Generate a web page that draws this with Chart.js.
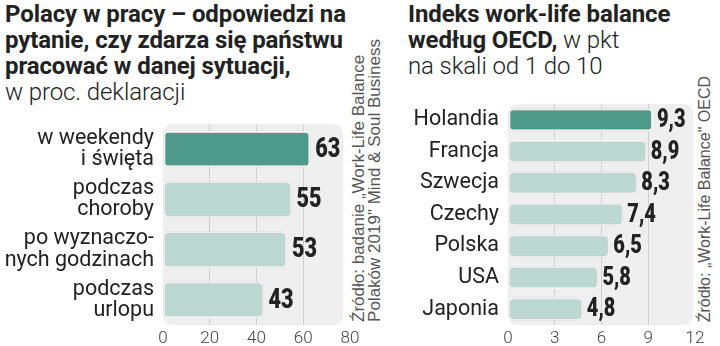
<!DOCTYPE html>
<html>
<head>
<meta charset="utf-8">
<script src="https://cdn.jsdelivr.net/npm/chart.js@4"></script>
<style>
  body { margin: 0; width: 720px; height: 346px; background: #fff; position: relative; overflow: hidden; font-family: Roboto, sans-serif; color: #222; }
  .title { position: absolute; top: 1px; font-size: 24px; line-height: 26px; white-space: nowrap; letter-spacing: -0.1px; }
  .title b { font-weight: 700; }
  .title span { font-weight: 300; }
  .src { position: absolute; bottom: 24px; writing-mode: vertical-rl; transform: rotate(180deg); font-family: "Liberation Sans", sans-serif; line-height: 16px; color: #555; white-space: nowrap; }
  canvas { position: absolute; }
</style>
</head>
<body>
<div class="title" style="left:5px"><b>Polacy w pracy – odpowiedzi na<br>pytanie, czy zdarza się państwu<br>pracować w danej sytuacji,</b><br><span>w proc. deklaracji</span></div>
<div class="title" style="left:408px"><b>Indeks work-life balance<br>według OECD,</b><span> w pkt<br>na skali od 1 do 10</span></div>
<div class="src" style="left:351px;font-size:17px">Źródło: badanie „Work-Life Balance<br>Polaków 2019" Mind &amp; Soul Business</div>
<div class="src" style="left:697px;font-size:16px">Źródło: „Work-Life Balance" OECD</div>
<canvas id="leftChart" width="360" height="246" style="left:0;top:100px"></canvas>
<canvas id="rightChart" width="320" height="256" style="left:400px;top:90px"></canvas>
<script>
// left chart: Polacy w pracy
const situations = [['w weekendy', 'i święta'], ['podczas', 'choroby'], ['po wyznaczo-', 'nych godzinach'], ['podczas', 'urlopu']];
const situationShares = [63, 55, 53, 43];
const shareTicks = [0, 20, 40, 60, 80];

// right chart: OECD index
const countries = ['Holandia', 'Francja', 'Szwecja', 'Czechy', 'Polska', 'USA', 'Japonia'];
const indexValues = [9.3, 8.9, 8.3, 7.4, 6.5, 5.8, 4.8];
const indexTicks = [0, 3, 6, 9, 12];

const DARK = '#4f9b8b';
const LIGHT = '#bcd9d1';

const panelBg = {
    id: 'panelBg',
    beforeDraw(chart, args, opts) {
        const a = chart.chartArea, ctx = chart.ctx;
        ctx.save();
        ctx.fillStyle = '#efefef';
        ctx.beginPath();
        ctx.roundRect(a.left, a.top, a.right - a.left - opts.cut, a.bottom - a.top, 9);
        ctx.fill();
        ctx.restore();
    }
};

const barShadow = {
    id: 'barShadow',
    beforeDatasetsDraw(chart) {
        chart.ctx.save();
        chart.ctx.shadowColor = 'rgba(0,0,0,0.28)';
        chart.ctx.shadowBlur = 3;
    },
    afterDatasetsDraw(chart) {
        chart.ctx.restore();
    }
};

const valueLabels = {
    id: 'valueLabels',
    afterDatasetsDraw(chart, args, opts) {
        const ctx = chart.ctx;
        const meta = chart.getDatasetMeta(0);
        ctx.save();
        ctx.fillStyle = '#222';
        ctx.font = '900 ' + opts.size + 'px Roboto';
        ctx.textBaseline = 'middle';
        meta.data.forEach((bar, i) => {
            const v = chart.data.datasets[0].data[i];
            const txt = opts.format(v);
            ctx.save();
            ctx.translate(bar.x + opts.gap, bar.y + 1);
            ctx.scale(0.8, 1);
            ctx.fillText(txt, 0, 0);
            ctx.restore();
        });
        ctx.restore();
    }
};

function makeChart(id, labels, values, ticks, opt) {
    const ctx = document.getElementById(id).getContext('2d');
    return new Chart(ctx, {
        type: 'bar',
        data: {
            labels: labels,
            datasets: [{
                data: values,
                backgroundColor: values.map((v, i) => i === 0 ? DARK : LIGHT),
                borderColor: '#ffffff',
                borderWidth: 2,
                borderRadius: 4,
                borderSkipped: false,
                barPercentage: 0.72,
                categoryPercentage: 1
            }]
        },
        options: {
            indexAxis: 'y',
            responsive: false,
            animation: false,
            devicePixelRatio: 1,
            layout: { padding: { top: opt.top, right: opt.right, left: 0, bottom: 0 } },
            plugins: {
                legend: { display: false },
                tooltip: { enabled: false },
                panelBg: { cut: opt.cut },
                valueLabels: { size: opt.valSize, gap: opt.gap, format: opt.format }
            },
            scales: {
                x: {
                    min: ticks[0],
                    max: ticks[ticks.length - 1],
                    afterBuildTicks: s => { s.ticks = ticks.map(v => ({ value: v })); },
                    afterFit: s => { s.height = 21; s.paddingLeft = 0; s.paddingRight = 0; },
                    border: { display: false },
                    grid: {
                        drawTicks: false,
                        lineWidth: 1,
                        color: c => (c.index === 0 || c.index === ticks.length - 1) ? 'rgba(0,0,0,0)' : '#cfcfcf'
                    },
                    ticks: { padding: 4, color: '#444', font: { family: 'Roboto', weight: '300', size: 17 } }
                },
                y: {
                    afterFit: s => { s.width = opt.yWidth; s.paddingTop = 0; s.paddingBottom = 0; },
                    border: { display: false },
                    grid: { display: false, drawTicks: false },
                    ticks: { padding: 9, color: '#222', font: { family: 'Roboto', size: 21.5, lineHeight: 0.98 } }
                }
            }
        },
        plugins: [panelBg, barShadow, valueLabels]
    });
}

makeChart('leftChart', situations, situationShares, shareTicks, {
    top: 24, right: 10, cut: 7, yWidth: 163, valSize: 27, gap: 5,
    format: v => String(v)
});
makeChart('rightChart', countries, indexValues, indexTicks, {
    top: 14, right: 25, cut: 2, yWidth: 108, valSize: 25, gap: 4,
    format: v => v.toFixed(1).replace('.', ',')
});
</script>
</body>
</html>
